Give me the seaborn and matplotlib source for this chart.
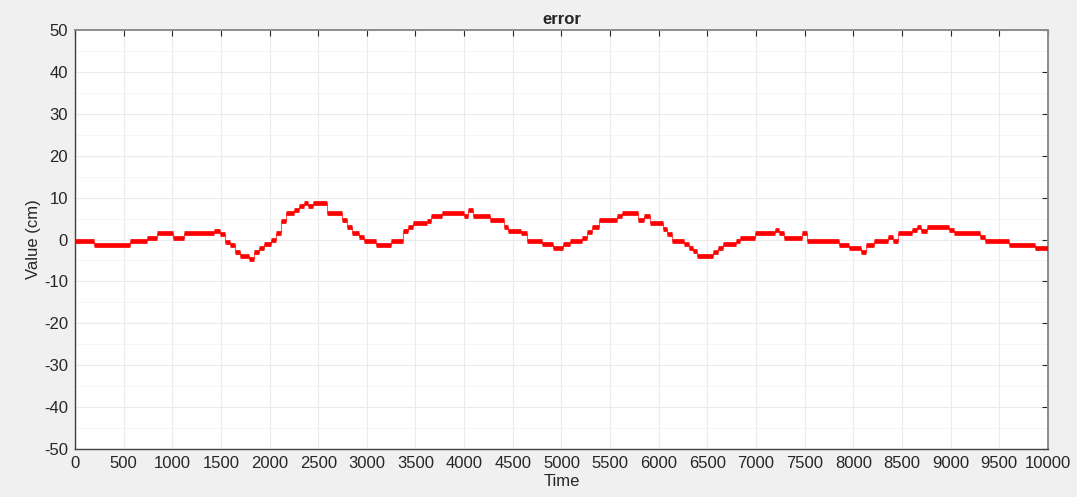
import numpy as np
import pandas as pd
import matplotlib
matplotlib.use("Agg")
import matplotlib.pyplot as plt
import seaborn as sns

# held error values: the value starts at step_times[i] and holds until the next one
step_times = [0, 200, 570, 740, 840, 1010, 1120, 1430, 1490, 1540, 1590, 1640,
              1700, 1790, 1840, 1890, 1940, 2020, 2070, 2120, 2170, 2250, 2300,
              2350, 2400, 2450, 2590, 2740, 2800, 2850, 2920, 2970, 3090, 3250,
              3370, 3420, 3470, 3620, 3660, 3770, 4000, 4040, 4090, 4270, 4410,
              4450, 4580, 4650, 4800, 4910, 5020, 5090, 5210, 5260, 5310, 5390,
              5570, 5620, 5790, 5850, 5910, 6040, 6090, 6140, 6260, 6310, 6350,
              6390, 6560, 6610, 6660, 6790, 6840, 6990, 7190, 7240, 7290, 7470,
              7520, 7850, 7960, 8080, 8130, 8210, 8360, 8410, 8460, 8600, 8650,
              8700, 8760, 8980, 9030, 9300, 9350, 9600, 9870, 10000]
step_values = [-0.3, -1.2, -0.4, 0.4, 1.5, 0.4, 1.5, 2.1, 1.2, -0.5, -1.3, -2.9,
               -3.9, -4.7, -2.9, -2.0, -1.1, -0.1, 1.5, 4.5, 6.3, 7.0, 8.0,
               8.8, 8.0, 8.8, 6.3, 4.7, 3.1, 1.5, 0.6, -0.4, -1.3, -0.4,
               2.0, 3.0, 3.9, 4.5, 5.6, 6.4, 5.6, 7.0, 5.7, 4.7, 3.1,
               2.1, 1.5, -0.4, -1.1, -2.1, -1.1, -0.4, 0.4, 1.9, 3.1, 4.7,
               5.6, 6.4, 4.7, 5.6, 4.0, 2.5, 1.3, -0.4, -1.1, -2.1, -2.7,
               -3.9, -2.9, -2.1, -1.1, -0.4, 0.4, 1.5, 2.3, 1.5, 0.4, 1.5,
               -0.4, -1.2, -2.1, -3.0, -1.2, -0.4, 0.5, -0.4, 1.5, 2.3, 3.1,
               2.0, 3.1, 2.3, 1.5, 0.5, -0.4, -1.4, -2.1, -2.3]

x_ticks = np.arange(0, 10001, 500)
y_ticks = np.arange(-50, 51, 10)

df = pd.DataFrame({"Time": step_times, "error": step_values})

sns.set_style("white")
plt.rcParams["font.family"] = ["Liberation Sans", "DejaVu Sans"]
plt.rcParams["font.size"] = 12
plt.rcParams["axes.unicode_minus"] = False

fig = plt.figure(figsize=(10.77, 4.97), dpi=100, facecolor="#f0f0f0")
ax = fig.add_axes([0.0696, 0.0966, 0.9034, 0.843])
ax.set_facecolor("white")

# thin risers between the held values
sns.lineplot(data=df, x="Time", y="error", ax=ax, color="#ff3030",
             linewidth=0.8, drawstyle="steps-post", alpha=0.8)
# thick held segments
ax.hlines(step_values[:-1], step_times[:-1], step_times[1:],
          colors="#ff0000", linewidth=3.4, zorder=3)

ax.set_xlim(0, 10000)
ax.set_ylim(-50, 50)
ax.set_xticks(x_ticks)
ax.set_yticks(y_ticks)
ax.set_yticks(np.arange(-45, 50, 10), minor=True)

ax.grid(True, which="major", color="#ebebeb", linewidth=0.8)
ax.grid(True, which="minor", axis="y", color="#f4f4f4", linewidth=0.6)
ax.set_axisbelow(True)

ax.tick_params(which="major", direction="in", length=4, top=True, right=True,
               labelsize=12, colors="#262626", pad=5)
ax.tick_params(which="minor", length=0)

for side in ["left", "bottom"]:
    ax.spines[side].set_color("#404040")
    ax.spines[side].set_linewidth(1.0)
for side in ["top", "right"]:
    ax.spines[side].set_color("#8c8c8c")
    ax.spines[side].set_linewidth(1.4)

ax.set_title("error", fontsize=12, fontweight="bold", pad=4)
ax.set_xlabel("Time", fontsize=12, labelpad=2)
ax.set_ylabel("Value (cm)", fontsize=12, labelpad=2)

fig.savefig("out.png", dpi=100, facecolor=fig.get_facecolor())
